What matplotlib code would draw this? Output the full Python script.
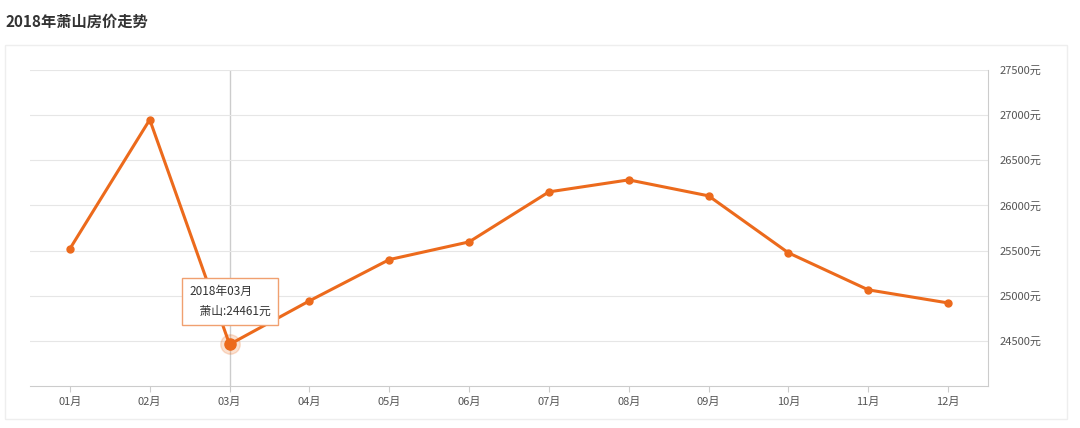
import matplotlib.pyplot as plt
from matplotlib.patches import Rectangle

plt.rcParams['font.family'] = ['Noto Sans CJK SC', 'DejaVu Sans']

months = ['01月', '02月', '03月', '04月', '05月', '06月', '07月', '08月', '09月', '10月', '11月', '12月']
prices = [25520, 26950, 24461, 24943, 25400, 25596, 26150, 26283, 26106, 25475, 25065, 24920]
yticks = [24500, 25000, 25500, 26000, 26500, 27000, 27500]

orange = '#ec6a1c'
fig = plt.figure(figsize=(10.8, 4.28), dpi=100)
fig.patches.append(Rectangle((5 / 1080, 0.02), 1062 / 1080, 0.875, transform=fig.transFigure,
                             fill=False, edgecolor='#eeeeee', lw=1))
fig.text(5 / 1080, 1 - 22 / 428, '2018年萧山房价走势', fontsize=11, fontweight='bold',
         color='#333333', va='center')

ax = fig.add_axes([30 / 1080, 42 / 428, 958 / 1080, 316 / 428])
x = list(range(len(months)))
ax.plot(x, prices, color=orange, lw=2.2, marker='o', ms=5, zorder=3)
ax.set_xlim(-0.5, 11.5)
ax.set_ylim(24000, 27500)
ax.set_xticks(x)
ax.set_xticklabels(months)
ax.set_yticks(yticks)
ax.set_yticklabels([f'{v}元' for v in yticks])
ax.yaxis.tick_right()
ax.tick_params(axis='y', length=0, labelsize=8, colors='#555555', pad=8)
ax.tick_params(axis='x', length=4, labelsize=8, colors='#555555', color='#cccccc')
ax.grid(axis='y', color='#e6e6e6', lw=0.8)
for s in ['top', 'left']:
    ax.spines[s].set_visible(False)
ax.spines['bottom'].set_color('#cccccc')
ax.spines['right'].set_color('#cccccc')

# hover highlight on 03
i = 2
ax.axvline(i, color='#cccccc', lw=1, zorder=1)
ax.plot(i, prices[i], 'o', ms=14, color=orange, alpha=0.2, zorder=4)
ax.plot(i, prices[i], 'o', ms=8, color=orange, zorder=5)
ax.annotate(f'2018年{months[i]}\n    萧山:{prices[i]}元', (i, prices[i]), xytext=(-29, 19),
            textcoords='offset points', fontsize=8.5, color='#333333', va='bottom', ha='left',
            linespacing=1.7,
            bbox=dict(boxstyle='square,pad=0.6', fc='white', ec='#f0a070', lw=1), zorder=6)

fig.savefig('out.png')
